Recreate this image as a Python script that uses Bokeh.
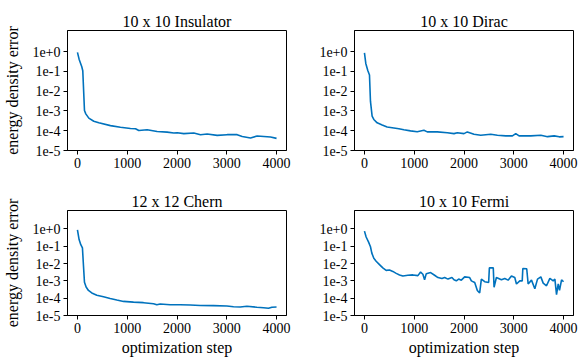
from bokeh.plotting import figure
from bokeh.layouts import column, row
from bokeh.models import FixedTicker, Range1d
from bokeh.embed import file_html
from bokeh.resources import INLINE

# ---- data ----
titles = ["10 x 10 Insulator", "10 x 10 Dirac", "12 x 12 Chern", "10 x 10 Fermi"]

ins_steps = [0, 33, 87, 107, 141, 168, 228, 328, 429, 663, 864, 1065, 1166, 1233, 1400, 1601,
             1802, 1936, 2003, 2137, 2338, 2472, 2606, 2807, 3008, 3209, 3310, 3477, 3611,
             3745, 3879, 4000]
ins_err = [0.9, 0.41, 0.17, 0.107, 1.05e-3, 7.1e-4, 4.3e-4, 3.0e-4, 2.5e-4, 1.8e-4, 1.5e-4,
           1.29e-4, 1.26e-4, 1.02e-4, 1.12e-4, 9.1e-5, 8.5e-5, 7.6e-5, 7.9e-5, 7.1e-5, 7.6e-5,
           6.3e-5, 6.8e-5, 5.8e-5, 6.3e-5, 6.3e-5, 5.1e-5, 4.3e-5, 5.4e-5, 5.1e-5, 4.8e-5, 4.1e-5]

dir_steps = [0, 27, 67, 101, 121, 154, 188, 255, 356, 456, 591, 691, 792, 926, 1060, 1195, 1262,
             1463, 1664, 1799, 1866, 2000, 2067, 2201, 2336, 2537, 2671, 2839, 2973, 3040, 3107,
             3342, 3544, 3678, 3812, 3913, 4000]
dir_err = [0.85, 0.25, 0.11, 0.065, 3.0e-3, 5.4e-4, 3.7e-4, 2.5e-4, 1.95e-4, 1.55e-4, 1.38e-4,
           1.26e-4, 1.12e-4, 9.8e-5, 8.9e-5, 1.05e-4, 8.7e-5, 8.7e-5, 7.9e-5, 7.1e-5, 7.9e-5,
           7.1e-5, 8.7e-5, 6.6e-5, 5.9e-5, 6.6e-5, 5.9e-5, 5.5e-5, 5.5e-5, 7.1e-5, 5.5e-5,
           5.5e-5, 5.9e-5, 5.0e-5, 5.5e-5, 4.9e-5, 5.0e-5]

chern_steps = [0, 33, 67, 100, 121, 141, 174, 221, 288, 389, 523, 657, 791, 925, 1126, 1327,
               1528, 1595, 1662, 1863, 2064, 2265, 2466, 2734, 3002, 3136, 3270, 3404, 3605,
               3739, 3839, 3906, 4000]
chern_err = [0.87, 0.24, 0.123, 0.081, 7.4e-3, 8.3e-4, 4.4e-4, 2.8e-4, 2.0e-4, 1.48e-4, 1.2e-4,
             9.5e-5, 7.8e-5, 6.5e-5, 5.9e-5, 5.5e-5, 4.8e-5, 4.2e-5, 4.6e-5, 4.2e-5, 4.2e-5,
             4.0e-5, 3.8e-5, 3.7e-5, 3.5e-5, 3.2e-5, 3.1e-5, 3.4e-5, 3.0e-5, 2.8e-5, 2.6e-5,
             3.0e-5, 3.1e-5]

fermi_steps = [0, 34, 81, 121, 148, 188, 235, 302, 369, 436, 503, 570, 638, 705, 772, 872, 973,
               1074, 1128, 1174, 1208, 1242, 1329, 1409, 1477, 1557, 1611, 1678, 1758, 1799,
               1846, 1893, 1946, 2013, 2114, 2148, 2215, 2268, 2315, 2349, 2416, 2495, 2510,
               2588, 2604, 2651, 2752, 2819, 2886, 2953, 3020, 3054, 3121, 3170, 3182, 3260,
               3289, 3356, 3423, 3477, 3544, 3591, 3658, 3725, 3792, 3826, 3859, 3893, 3919,
               3960, 4000]
fermi_err = [0.74, 0.34, 0.178, 0.093, 0.040, 0.020, 0.0135, 8.7e-3, 5.6e-3, 4.0e-3, 4.2e-3,
             3.5e-3, 2.7e-3, 2.2e-3, 1.9e-3, 2.1e-3, 2.2e-3, 2.0e-3, 3.2e-3, 2.4e-3, 1.15e-3,
             2.6e-3, 3.0e-3, 2.1e-3, 1.55e-3, 1.35e-3, 1.55e-3, 1.26e-3, 1.55e-3, 1.15e-3,
             1.0e-3, 1.26e-3, 1.1e-3, 1.7e-3, 1.55e-3, 1.0e-3, 8.1e-4, 2.8e-4, 2.0e-4, 1.26e-3,
             8.9e-4, 8.1e-4, 5.6e-3, 5.6e-3, 4.3e-4, 1.55e-3, 1.15e-3, 1.35e-3, 1.1e-3, 1.9e-3,
             1.55e-3, 6.6e-4, 1.0e-3, 1.0e-3, 5.2e-3, 5.0e-3, 6.6e-4, 1.1e-3, 3.5e-4, 1.26e-3,
             1.7e-3, 7.4e-4, 5.2e-4, 1.4e-3, 1.0e-3, 1.26e-3, 1.6e-4, 6.6e-4, 2.8e-4, 1.15e-3,
             8.9e-4]

x_ticks = [0, 1000, 2000, 3000, 4000]
y_ticks = [1e-5, 1e-4, 1e-3, 1e-2, 1e-1, 1e0]
y_tick_labels = ["1e-5", "1e-4", "1e-3", "1e-2", "1e-1", "1e+0"]
y_label = "energy density error"
x_label = "optimization step"

FONT = "Liberation Serif"
AXFONT = "'Liberation Serif'"
LINE = "#0072BD"


def panel(title, steps, err, fw, fh, bl, br, bt, bb, ylab, xlab):
    p = figure(frame_width=fw, frame_height=fh, y_axis_type="log",
               x_range=Range1d(-200, 4200), y_range=Range1d(1e-5, 11.5),
               output_backend="svg", toolbar_location=None,
               min_border_left=bl, min_border_right=br,
               min_border_top=bt, min_border_bottom=bb)
    p.line(steps, err, line_color=LINE, line_width=1.6)
    p.title.text = title
    p.title.text_font = FONT
    p.title.text_font_size = "16px"
    p.title.text_font_style = "normal"
    p.title.align = "center"
    p.title.text_color = "black"
    p.title.standoff = 2
    p.grid.visible = False
    p.outline_line_color = "black"
    p.outline_line_alpha = 1
    p.outline_line_width = 1
    p.background_fill_color = "white"
    p.border_fill_color = "white"
    for ax in (p.xaxis[0], p.yaxis[0]):
        ax.axis_line_color = "black"
        ax.major_tick_line_color = "black"
        ax.major_tick_in = 0
        ax.major_tick_out = 4
        ax.minor_tick_line_color = None
        ax.major_label_text_font = AXFONT
        ax.major_label_text_font_size = "14px"
        ax.major_label_text_color = "black"
        ax.axis_label_text_font = AXFONT
        ax.axis_label_text_font_size = "16px"
        ax.axis_label_text_font_style = "normal"
        ax.axis_label_text_color = "black"
    p.xaxis.ticker = FixedTicker(ticks=x_ticks)
    p.xaxis.major_label_standoff = 3
    p.yaxis.ticker = FixedTicker(ticks=y_ticks)
    p.yaxis.major_label_overrides = {t: s for t, s in zip(y_ticks, y_tick_labels)}
    p.yaxis.major_label_standoff = 3
    if ylab:
        p.yaxis.axis_label = ylab
        p.yaxis.axis_label_standoff = 8
    if xlab:
        p.xaxis.axis_label = xlab
        p.xaxis.axis_label_standoff = 3
    return p


p1 = panel(titles[0], ins_steps, ins_err, 219, 120, 67, 10, 30, 23, y_label, None)
p2 = panel(titles[1], dir_steps, dir_err, 219, 120, 58, 5, 30, 23, None, None)
p3 = panel(titles[2], chern_steps, chern_err, 219, 105, 67, 10, 37, 44, y_label, x_label)
p4 = panel(titles[3], fermi_steps, fermi_err, 219, 105, 58, 5, 37, 44, None, x_label)

layout = column(row(p1, p2), row(p3, p4))

open("out.html", "w").write(file_html(layout, INLINE))
